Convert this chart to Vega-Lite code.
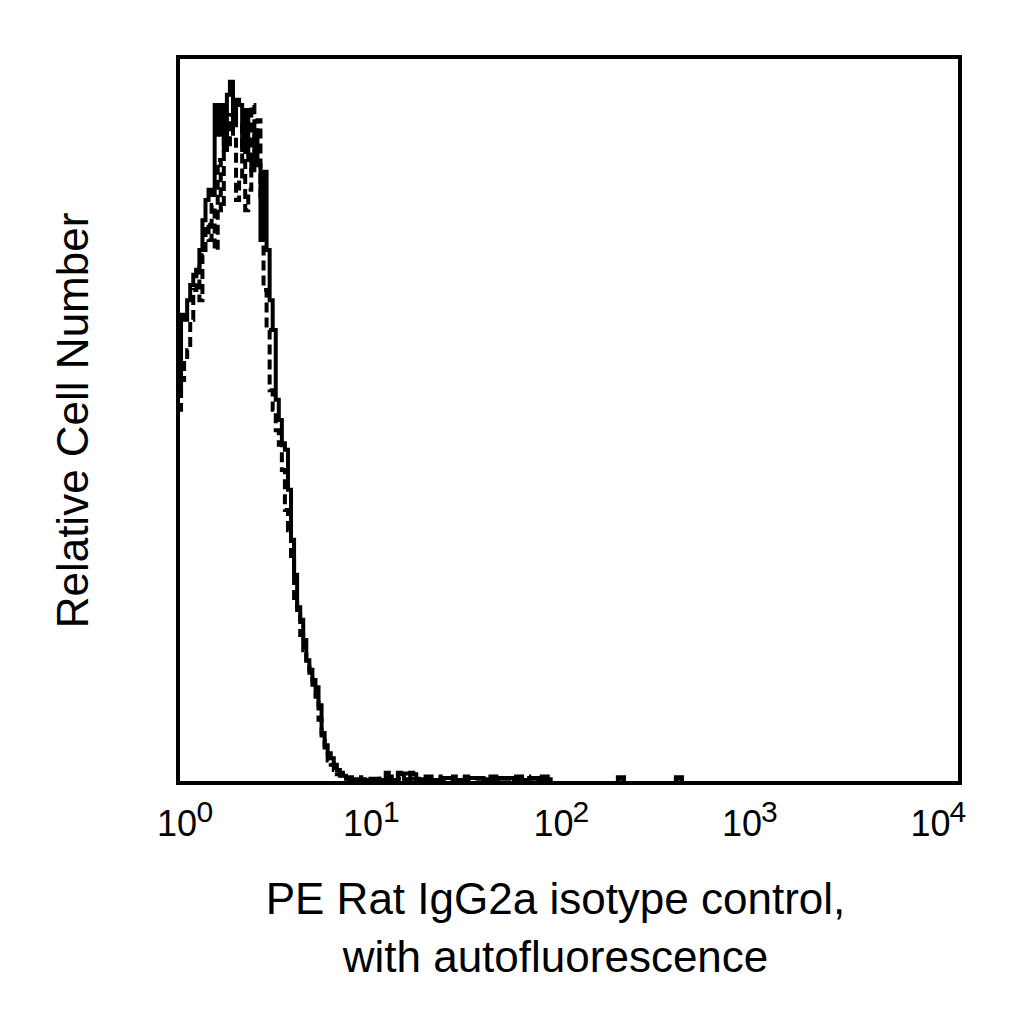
{
  "$schema": "https://vega.github.io/schema/vega-lite/v6.json",
  "width": 782,
  "height": 726,
  "autosize": {"type": "none"},
  "padding": {"left": 178, "top": 57, "right": 64, "bottom": 241},
  "background": "white",
  "config": {
    "font": "Liberation Sans",
    "view": {"stroke": "black", "strokeWidth": 4}
  },
  "datasets": {
    "hist": [
      {"s": "solid", "x": 1.0, "y": 53.4},
      {"s": "solid", "x": 1.0366, "y": 64.5},
      {"s": "solid", "x": 1.0746, "y": 63.8},
      {"s": "solid", "x": 1.1139, "y": 66.5},
      {"s": "solid", "x": 1.1548, "y": 68.6},
      {"s": "solid", "x": 1.1971, "y": 70.0},
      {"s": "solid", "x": 1.2409, "y": 70.7},
      {"s": "solid", "x": 1.2864, "y": 73.4},
      {"s": "solid", "x": 1.3335, "y": 77.5},
      {"s": "solid", "x": 1.3824, "y": 80.3},
      {"s": "solid", "x": 1.433, "y": 81.7},
      {"s": "solid", "x": 1.4855, "y": 81.0},
      {"s": "solid", "x": 1.5399, "y": 93.4},
      {"s": "solid", "x": 1.5963, "y": 89.3},
      {"s": "solid", "x": 1.6548, "y": 93.4},
      {"s": "solid", "x": 1.7154, "y": 87.2},
      {"s": "solid", "x": 1.7783, "y": 94.8},
      {"s": "solid", "x": 1.8434, "y": 96.6},
      {"s": "solid", "x": 1.911, "y": 90.6},
      {"s": "solid", "x": 1.981, "y": 94.1},
      {"s": "solid", "x": 2.0535, "y": 93.4},
      {"s": "solid", "x": 2.1288, "y": 87.2},
      {"s": "solid", "x": 2.2067, "y": 92.7},
      {"s": "solid", "x": 2.2876, "y": 85.8},
      {"s": "solid", "x": 2.3714, "y": 84.4},
      {"s": "solid", "x": 2.4582, "y": 89.9},
      {"s": "solid", "x": 2.5483, "y": 85.1},
      {"s": "solid", "x": 2.6416, "y": 74.8},
      {"s": "solid", "x": 2.7384, "y": 84.2},
      {"s": "solid", "x": 2.8387, "y": 73.4},
      {"s": "solid", "x": 2.9427, "y": 66.5},
      {"s": "solid", "x": 3.0505, "y": 62.4},
      {"s": "solid", "x": 3.1623, "y": 52.8},
      {"s": "solid", "x": 3.2781, "y": 50.0},
      {"s": "solid", "x": 3.3982, "y": 46.8},
      {"s": "solid", "x": 3.5227, "y": 45.9},
      {"s": "solid", "x": 3.6517, "y": 40.4},
      {"s": "solid", "x": 3.7855, "y": 33.5},
      {"s": "solid", "x": 3.9242, "y": 28.7},
      {"s": "solid", "x": 4.0679, "y": 24.2},
      {"s": "solid", "x": 4.217, "y": 22.5},
      {"s": "solid", "x": 4.3714, "y": 19.7},
      {"s": "solid", "x": 4.5316, "y": 16.9},
      {"s": "solid", "x": 4.6976, "y": 15.6},
      {"s": "solid", "x": 4.8697, "y": 14.2},
      {"s": "solid", "x": 5.0481, "y": 13.2},
      {"s": "solid", "x": 5.233, "y": 10.7},
      {"s": "solid", "x": 5.4247, "y": 6.9},
      {"s": "solid", "x": 5.6234, "y": 5.2},
      {"s": "solid", "x": 5.8294, "y": 4.1},
      {"s": "solid", "x": 6.043, "y": 3.4},
      {"s": "solid", "x": 6.2643, "y": 2.5},
      {"s": "solid", "x": 6.4938, "y": 1.8},
      {"s": "solid", "x": 6.7317, "y": 1.4},
      {"s": "solid", "x": 6.9783, "y": 1.0},
      {"s": "solid", "x": 7.2339, "y": 0.7},
      {"s": "solid", "x": 7.4989, "y": 0.5},
      {"s": "solid", "x": 8.6596, "y": 0.4},
      {"s": "solid", "x": 9.646, "y": 0.6},
      {"s": "solid", "x": 10.746, "y": 0.4},
      {"s": "solid", "x": 11.548, "y": 1.4},
      {"s": "solid", "x": 11.971, "y": 0.4},
      {"s": "solid", "x": 13.335, "y": 1.4},
      {"s": "solid", "x": 13.824, "y": 1.2},
      {"s": "solid", "x": 14.33, "y": 0.5},
      {"s": "solid", "x": 15.399, "y": 1.4},
      {"s": "solid", "x": 15.963, "y": 1.2},
      {"s": "solid", "x": 16.548, "y": 0.5},
      {"s": "solid", "x": 17.783, "y": 0.4},
      {"s": "solid", "x": 22.067, "y": 0.7},
      {"s": "solid", "x": 25.483, "y": 0.4},
      {"s": "solid", "x": 30.505, "y": 0.7},
      {"s": "solid", "x": 36.517, "y": 0.5},
      {"s": "solid", "x": 43.714, "y": 0.7},
      {"s": "solid", "x": 52.33, "y": 0.4},
      {"s": "solid", "x": 62.643, "y": 0.7},
      {"s": "solid", "x": 69.783, "y": 0.5},
      {"s": "solid", "x": 80.584, "y": 0},
      {"s": "solid", "x": 177.83, "y": 0.8},
      {"s": "solid", "x": 191.1, "y": 0},
      {"s": "solid", "x": 352.27, "y": 0.8},
      {"s": "solid", "x": 378.55, "y": 0},
      {"s": "solid", "x": 10000, "y": 0},
      {"s": "dashed", "x": 1.0, "y": 51.4},
      {"s": "dashed", "x": 1.0366, "y": 55.5},
      {"s": "dashed", "x": 1.0746, "y": 58.3},
      {"s": "dashed", "x": 1.1139, "y": 59.6},
      {"s": "dashed", "x": 1.1548, "y": 63.8},
      {"s": "dashed", "x": 1.1971, "y": 67.9},
      {"s": "dashed", "x": 1.2409, "y": 71.3},
      {"s": "dashed", "x": 1.2864, "y": 66.5},
      {"s": "dashed", "x": 1.3335, "y": 72.7},
      {"s": "dashed", "x": 1.3824, "y": 76.9},
      {"s": "dashed", "x": 1.433, "y": 74.8},
      {"s": "dashed", "x": 1.4855, "y": 79.6},
      {"s": "dashed", "x": 1.5399, "y": 73.4},
      {"s": "dashed", "x": 1.5963, "y": 85.8},
      {"s": "dashed", "x": 1.6548, "y": 78.9},
      {"s": "dashed", "x": 1.7154, "y": 89.9},
      {"s": "dashed", "x": 1.7783, "y": 87.2},
      {"s": "dashed", "x": 1.8434, "y": 92.0},
      {"s": "dashed", "x": 1.911, "y": 88.6},
      {"s": "dashed", "x": 1.981, "y": 80.3},
      {"s": "dashed", "x": 2.0535, "y": 83.1},
      {"s": "dashed", "x": 2.1288, "y": 90.6},
      {"s": "dashed", "x": 2.2067, "y": 78.9},
      {"s": "dashed", "x": 2.2876, "y": 81.7},
      {"s": "dashed", "x": 2.3714, "y": 93.4},
      {"s": "dashed", "x": 2.4582, "y": 87.2},
      {"s": "dashed", "x": 2.5483, "y": 91.3},
      {"s": "dashed", "x": 2.6416, "y": 80.3},
      {"s": "dashed", "x": 2.7384, "y": 67.9},
      {"s": "dashed", "x": 2.8387, "y": 62.4},
      {"s": "dashed", "x": 2.9427, "y": 54.1},
      {"s": "dashed", "x": 3.0505, "y": 51.4},
      {"s": "dashed", "x": 3.1623, "y": 48.6},
      {"s": "dashed", "x": 3.2781, "y": 46.6},
      {"s": "dashed", "x": 3.3982, "y": 43.1},
      {"s": "dashed", "x": 3.5227, "y": 37.6},
      {"s": "dashed", "x": 3.6517, "y": 34.8},
      {"s": "dashed", "x": 3.7855, "y": 30.7},
      {"s": "dashed", "x": 3.9242, "y": 25.2},
      {"s": "dashed", "x": 4.0679, "y": 23.1},
      {"s": "dashed", "x": 4.217, "y": 20.4},
      {"s": "dashed", "x": 4.3714, "y": 18.3},
      {"s": "dashed", "x": 4.5316, "y": 16.3},
      {"s": "dashed", "x": 4.6976, "y": 14.9},
      {"s": "dashed", "x": 4.8697, "y": 12.8},
      {"s": "dashed", "x": 5.0481, "y": 11.4},
      {"s": "dashed", "x": 5.233, "y": 8.7},
      {"s": "dashed", "x": 5.4247, "y": 5.9},
      {"s": "dashed", "x": 5.6234, "y": 4.5},
      {"s": "dashed", "x": 5.8294, "y": 3.1},
      {"s": "dashed", "x": 6.043, "y": 2.5},
      {"s": "dashed", "x": 6.2643, "y": 1.8},
      {"s": "dashed", "x": 6.4938, "y": 1.2},
      {"s": "dashed", "x": 6.7317, "y": 1.0},
      {"s": "dashed", "x": 6.9783, "y": 0.7},
      {"s": "dashed", "x": 7.2339, "y": 0.6},
      {"s": "dashed", "x": 7.4989, "y": 0.8},
      {"s": "dashed", "x": 8.6596, "y": 0.5},
      {"s": "dashed", "x": 10.746, "y": 0.6},
      {"s": "dashed", "x": 12.409, "y": 1.3},
      {"s": "dashed", "x": 13.335, "y": 0.6},
      {"s": "dashed", "x": 14.33, "y": 1.3},
      {"s": "dashed", "x": 15.399, "y": 0.6},
      {"s": "dashed", "x": 17.783, "y": 0.9},
      {"s": "dashed", "x": 22.067, "y": 0.5},
      {"s": "dashed", "x": 25.483, "y": 0.9},
      {"s": "dashed", "x": 30.505, "y": 0.6},
      {"s": "dashed", "x": 36.517, "y": 0.9},
      {"s": "dashed", "x": 43.714, "y": 0.6},
      {"s": "dashed", "x": 52.33, "y": 0.9},
      {"s": "dashed", "x": 62.643, "y": 0.6},
      {"s": "dashed", "x": 69.783, "y": 0.9},
      {"s": "dashed", "x": 80.584, "y": 0},
      {"s": "dashed", "x": 177.83, "y": 0.6},
      {"s": "dashed", "x": 191.1, "y": 0},
      {"s": "dashed", "x": 352.27, "y": 0.6},
      {"s": "dashed", "x": 378.55, "y": 0},
      {"s": "dashed", "x": 10000, "y": 0}
    ]
  },
  "data": {"name": "hist"},
  "encoding": {
    "y": {
      "field": "y",
      "type": "quantitative",
      "scale": {"domain": [0, 100], "nice": false},
      "axis": {
        "labels": false,
        "ticks": false,
        "domain": false,
        "grid": false,
        "title": "Relative Cell Number",
        "titleFontSize": 44,
        "titleFontWeight": "normal",
        "titleColor": "black",
        "titlePadding": 82
      }
    }
  },
  "layer": [
    {
      "transform": [{"filter": "datum.s == 'dashed'"}],
      "mark": {"type": "line", "interpolate": "step-after", "color": "black", "strokeWidth": 4, "strokeDash": [10, 5], "clip": true},
      "encoding": {
        "x": {
          "field": "x",
          "type": "quantitative",
          "scale": {"type": "log", "domain": [1, 10000], "nice": false},
          "axis": {
            "orient": "bottom",
            "values": [1, 10, 100, 1000, 10000],
            "labelExpr": "'' + round(log(datum.value) / LN10)",
            "labelFontSize": 30,
            "labelColor": "black",
            "labelAlign": "left",
            "labelPadding": 14,
            "labelFlush": false,
            "labelOverlap": false,
            "labelBound": false,
            "labelOffset": {
              "condition": [
                {"test": "datum.value == 1", "value": 18},
                {"test": "datum.value == 10", "value": 9},
                {"test": "datum.value == 100", "value": 3},
                {"test": "datum.value == 1000", "value": -4}
              ],
              "value": -11
            },
            "domain": false,
            "ticks": false,
            "grid": false,
            "title": null
          }
        }
      }
    },
    {
      "transform": [{"filter": "datum.s == 'solid'"}],
      "mark": {"type": "line", "interpolate": "step-after", "color": "black", "strokeWidth": 4, "clip": true},
      "encoding": {
        "x": {
          "field": "x",
          "type": "quantitative",
          "scale": {"type": "log", "domain": [1, 10000], "nice": false},
          "axis": {
            "orient": "bottom",
            "values": [1, 10, 100, 1000, 10000],
            "labelExpr": "'10'",
            "labelFontSize": 36,
            "labelColor": "black",
            "labelAlign": "center",
            "labelPadding": 24,
            "labelFlush": false,
            "labelOverlap": false,
            "labelBound": false,
            "labelOffset": {
              "condition": [
                {"test": "datum.value == 1", "value": -1.5},
                {"test": "datum.value == 10", "value": -11},
                {"test": "datum.value == 100", "value": -16},
                {"test": "datum.value == 1000", "value": -23}
              ],
              "value": -30
            },
            "domain": false,
            "ticks": false,
            "grid": false,
            "title": ["PE Rat IgG2a isotype control,", "with autofluorescence"],
            "titleFontSize": 44,
            "titleFontWeight": "normal",
            "titleColor": "black",
            "titleLineHeight": 58,
            "titleBaseline": "alphabetic",
            "titleAlign": "center",
            "titleX": 377,
            "titleY": 130
          }
        }
      }
    }
  ],
  "resolve": {"axis": {"x": "independent"}}
}
